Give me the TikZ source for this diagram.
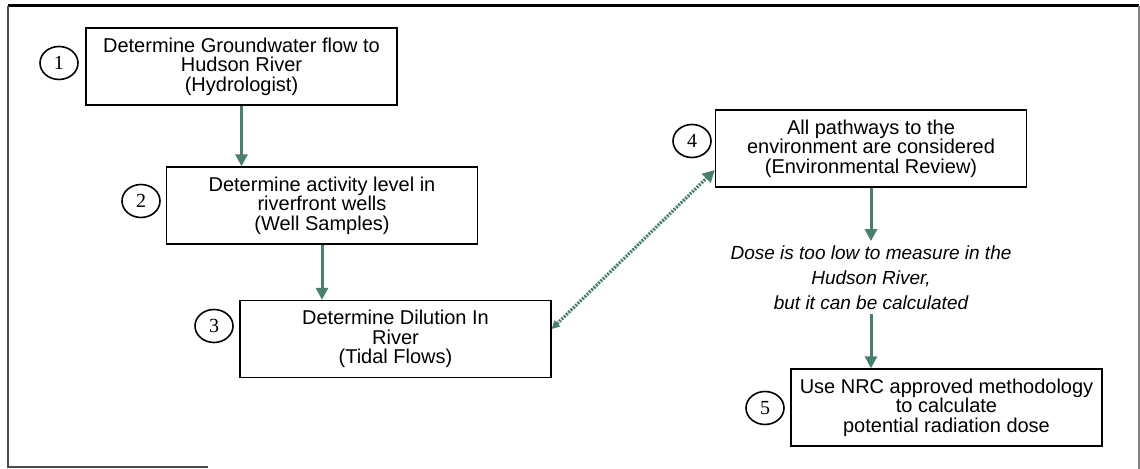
\documentclass[tikz,border=0pt]{standalone}
\usepackage{fontspec}
\setmainfont{Liberation Sans}
\newfontfamily\numfont{Liberation Serif}
\usetikzlibrary{shapes.geometric,arrows.meta}
\definecolor{flowgreen}{RGB}{72,128,112}

\begin{document}
\begin{tikzpicture}[x=0.5pt,y=-0.5pt,
    stepbox/.style={draw, line width=0.7pt, minimum width=155.5pt, minimum height=38.5pt,
        align=center, inner sep=1pt, font=\fontsize{10}{9.8}\selectfont},
    num/.style={draw, ellipse, line width=0.8pt, minimum width=19pt, minimum height=16.5pt,
        inner sep=0pt, font=\numfont\fontsize{10}{10}\selectfont},
    flow/.style={flowgreen, line width=1.5pt, -{Triangle[length=6pt,width=6pt]}}]
    \useasboundingbox (0,0) rectangle (1140,469);

    % frame
    \draw[line width=1.5pt] (8,6) -- (1139,6);
    \draw[gray!60!black, line width=1pt] (8,6) -- (8,467) -- (208,467);
    \draw[gray, line width=0.8pt] (1139,6) -- (1139,469);

    % steps
    \node[stepbox] (b1) at (241.5,66.5) {Determine Groundwater flow to\\Hudson River\\(Hydrologist)};
    \node[stepbox] (b2) at (322,205.5) {Determine activity level in\\riverfront wells\\(Well Samples)};
    \node[stepbox] (b3) at (395.5,339) {Determine Dilution In\\River\\(Tidal Flows)};
    \node[stepbox] (b4) at (871,148.5) {All pathways to the\\environment are considered\\(Environmental Review)};
    \node[stepbox] (b5) at (946.5,407.5) {Use NRC approved methodology\\to calculate\\potential radiation dose};

    \node[align=center, inner sep=2pt, font=\itshape\fontsize{9.5}{12.5}\selectfont] (dose) at (871,277.5)
        {Dose is too low to measure in the\\Hudson River,\\but it can be calculated};

    % numbers
    \node[num] (n1) at (59,63) {1};
    \node[num] (n2) at (141,201) {2};
    \node[num] (n3) at (214,326) {3};
    \node[num] (n4) at (692,141) {4};
    \node[num] (n5) at (765,408) {5};

    % arrows
    \draw[flow] (b1.south) -- (b1.south |- b2.north);
    \draw[flow] (b2.south) -- (b2.south |- b3.north);
    \draw[flow] (b4.south) -- (dose.north);
    \draw[flow] (dose.south) -- (dose.south |- b5.north);
    \draw[flowgreen, line width=1.6pt, dash pattern=on 1pt off 0.6pt,
        {Triangle[length=4pt,width=4pt]}-{Triangle[length=6pt,width=6pt]}]
        ([yshift=5pt]b3.east) -- ([yshift=-10.75pt]b4.west);

\end{tikzpicture}
\end{document}
